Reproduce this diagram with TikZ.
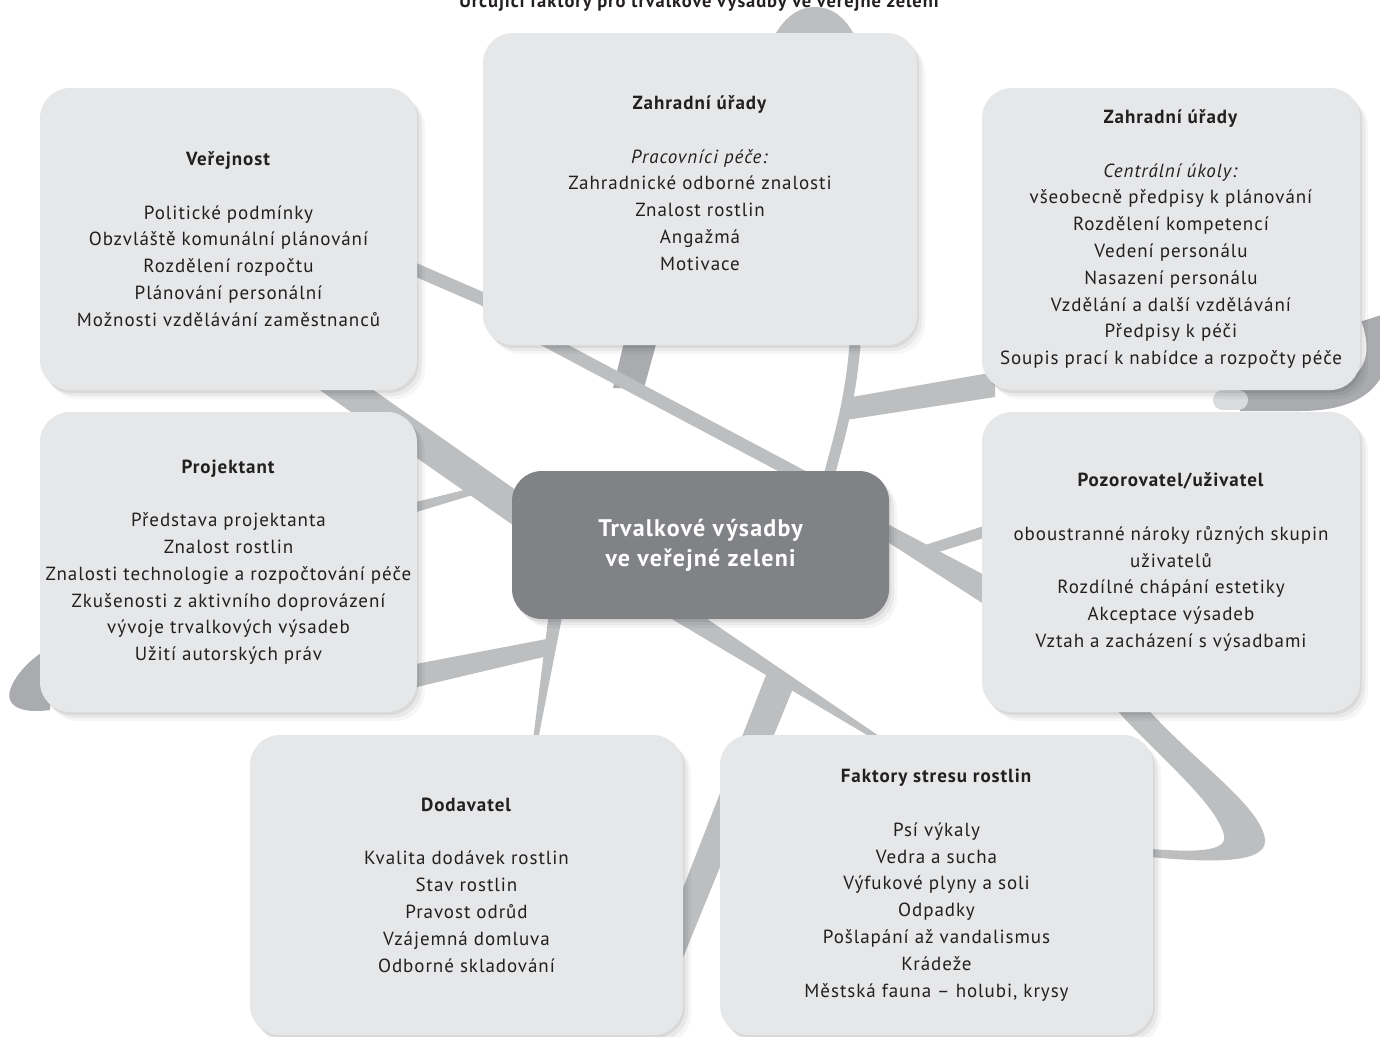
\documentclass[tikz,border=0pt]{standalone}
\usepackage{fontspec}
\setmainfont[LetterSpace=5]{PT Sans}
\usetikzlibrary{shadows}
\definecolor{rib}{HTML}{BCBEC0}
\definecolor{ribd}{HTML}{A9ABAE}
\definecolor{ribl}{HTML}{DADBDD}
\definecolor{boxc}{HTML}{E6E7E8}
\definecolor{cen}{HTML}{808285}
\definecolor{ink}{HTML}{231F20}
\tikzset{
  softshadow/.style={
    drop shadow={shadow xshift=2pt,shadow yshift=-3pt,opacity=.07,fill=black},
    drop shadow={shadow xshift=5pt,shadow yshift=-6pt,opacity=.05,fill=black},
    drop shadow={shadow xshift=8pt,shadow yshift=-9pt,opacity=.035,fill=black}},
  cardtext/.style={inner sep=0pt, align=center, text=ink, font=\fontsize{19}{26.8}\selectfont},
  card/.style={softshadow, fill=boxc, rounded corners=30pt, cardtext},
  core/.style={softshadow, fill=cen, rounded corners=30pt, inner sep=0pt, align=center,
    text=white, font=\bfseries\fontsize{24}{30}\selectfont},
  band/.style={rib, line cap=butt, line join=round},
}
\begin{document}
\begin{tikzpicture}[x=1pt,y=-1pt]
\useasboundingbox (0,0) rectangle (1380,1036);
\clip (0,0) rectangle (1380,1036);

% title (cut at the top edge, as in the reference)
\node[font=\bfseries\fontsize{18.5}{20}\selectfont, text=ink, anchor=base] (title) at (699,7)
  {Určující faktory pro trvalkové výsadby ve veřejné zeleni};

% ---------- ribbons ----------
\fill[rib] (772,40) .. controls (785,15) and (800,7) .. (815,7) .. controls (830,7) and (845,15) .. (857,40) -- cycle;
\fill[rib] (291,370) -- (345,370) -- (530,500) -- (530,537) -- cycle;
\fill[rib] (400,506) -- (472,488) -- (476,494) -- (400,517) -- cycle;
\fill[ribd] (627,330) -- (660,330) -- (644,388) -- (613,388) -- cycle;
\draw[band, line width=13pt] (400,263) -- (483,299) -- (545,340) -- (805,478);
\draw[band, line width=11pt] (856,330) .. controls (852,400) and (838,440) .. (828,480);
\fill[rib] (846,398) -- (995,372) -- (995,397) -- (846,420) -- cycle;
\draw[ribd, line width=22pt] (1372,318) .. controls (1388,365) and (1370,400) .. (1300,400) -- (1240,400);
\draw[ribl, line width=20pt, line cap=round] (1223,400) -- (1238,400);
\fill[rib] (880,520) -- (990,578) -- (990,608) -- (880,537) -- cycle;
\fill[rib] (919,547) -- (990,524) -- (990,536) -- (926,556) -- cycle;
\fill[rib] (1140,700) .. controls (1185,755) and (1262,805) .. (1265,840) .. controls (1267,866) and (1200,862) .. (1140,856) -- (1140,848) .. controls (1195,853) and (1228,852) .. (1224,835) .. controls (1215,800) and (1150,750) .. (1108,700) -- cycle;
\fill[rib] (768,670) -- (794,686) -- (682,960) -- (655,960) -- cycle;
\fill[rib] (660,612) -- (697,612) -- (882,738) -- (872,738) -- cycle;
\fill[rib] (549,612) -- (563,612) -- (538,740) -- (533,740) -- cycle;
\fill[rib] (400,667) -- (552,638) -- (552,655) -- (400,691) -- cycle;
\fill[ribd] (50,648) .. controls (25,660) and (5,688) .. (10,700) .. controls (15,712) and (35,712) .. (50,710) -- cycle;

% ---------- cards ----------
\node[card, minimum width=377pt, minimum height=302pt] (verejnost) at (228.5,239)
  {\textbf{Veřejnost}\\[26.8pt]Politické podmínky\\Obzvláště komunální plánování\\Rozdělení rozpočtu\\Plánování personální\\Možnosti vzdělávání zaměstnanců};
\node[card, minimum width=434pt, minimum height=312pt] (urady1) at (700,189) {};
\node[cardtext] (urady1text) at (700,183)
  {\textbf{Zahradní úřady}\\[26.8pt]\textit{Pracovníci péče:}\\Zahradnické odborné znalosti\\Znalost rostlin\\Angažmá\\Motivace};
\node[card, minimum width=378pt, minimum height=302pt] (urady2) at (1171,239)
  {\textbf{Zahradní úřady}\\[26.8pt]\textit{Centrální úkoly:}\\všeobecně předpisy k plánování\\Rozdělení kompetencí\\Vedení personálu\\Nasazení personálu\\Vzdělání a další vzdělávání\\Předpisy k péči\\Soupis prací k nabídce a rozpočty péče};
\node[card, minimum width=377pt, minimum height=300pt] (projektant) at (228.5,562)
  {\textbf{Projektant}\\[26.8pt]Představa projektanta\\Znalost rostlin\\Znalosti technologie a rozpočtování péče\\Zkušenosti z aktivního doprovázení\\vývoje trvalkových výsadeb\\Užití autorských práv};
\node[core, minimum width=377pt, minimum height=148pt] (center) at (700.5,545)
  {Trvalkové výsadby\\ve veřejné zeleni};
\node[card, minimum width=378pt, minimum height=300pt] (uzivatel) at (1171,562)
  {\textbf{Pozorovatel/uživatel}\\[26.8pt]oboustranné nároky různých skupin\\uživatelů\\Rozdílné chápání estetiky\\Akceptace výsadeb\\Vztah a zacházení s výsadbami};
\node[card, minimum width=433pt, minimum height=300pt] (dodavatel) at (466.5,885)
  {\textbf{Dodavatel}\\[26.8pt]Kvalita dodávek rostlin\\Stav rostlin\\Pravost odrůd\\Vzájemná domluva\\Odborné skladování};
\node[card, minimum width=433pt, minimum height=300pt] (stres) at (936.5,885)
  {\textbf{Faktory stresu rostlin}\\[26.8pt]Psí výkaly\\Vedra a sucha\\Výfukové plyny a soli\\Odpadky\\Pošlapání až vandalismus\\Krádeže\\Městská fauna – holubi, krysy};
\end{tikzpicture}
\end{document}
